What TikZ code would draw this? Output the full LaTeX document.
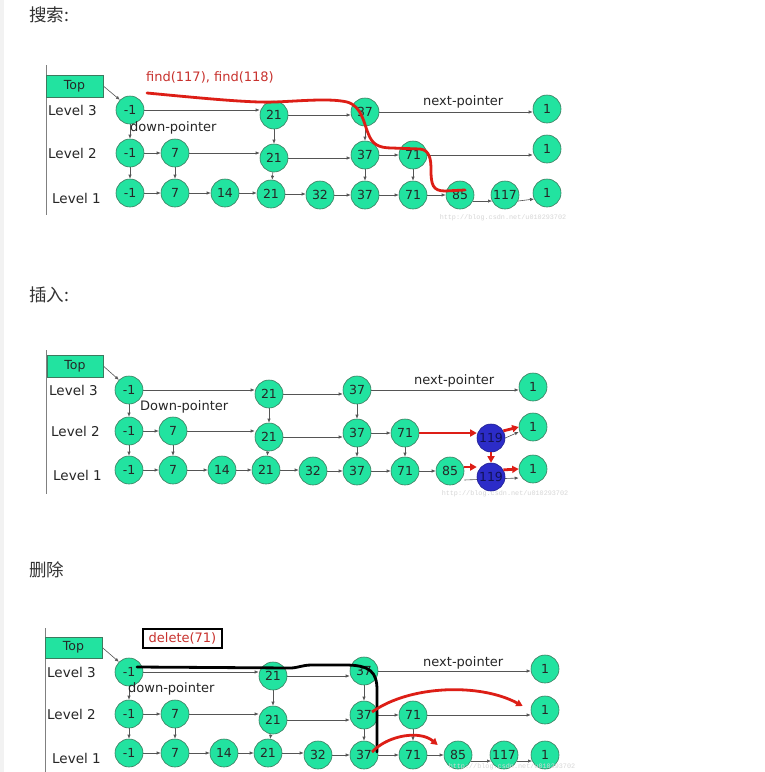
\documentclass[tikz,border=0pt]{standalone}
\usepackage{fontspec}
\setmainfont{DejaVu Sans}
\newfontfamily\cjkfont{Noto Sans CJK SC}
\newfontfamily\wmfont{Liberation Mono}
\usetikzlibrary{arrows.meta}
\definecolor{ndgreen}{HTML}{22E3A0}
\definecolor{ndborder}{HTML}{3C7A5E}
\definecolor{ndblue}{HTML}{2C2CC8}
\definecolor{ndblueb}{HTML}{1E1E90}
\definecolor{hlred}{HTML}{DD1E16}
\definecolor{txtred}{HTML}{C8322E}
\definecolor{lngray}{HTML}{555555}
\definecolor{wmgray}{HTML}{D6D6D6}
\pgfdeclarelayer{bg}
\pgfsetlayers{bg,main}
\newcommand\gn[3]{\node[nd] (#1) at (#2) {#3};}
\begin{document}
\begin{tikzpicture}[x=1pt,y=-1pt,
  nd/.style={circle,draw=ndborder,line width=0.6pt,fill=ndgreen,minimum size=28pt,inner sep=0pt,
    text=black!85,font=\fontsize{12.5}{14}\selectfont},
  bnd/.style={nd,fill=ndblue,draw=ndblueb,text=ndblueb!60!black},
  ar/.style={draw=lngray,line width=0.6pt,-{Latex[length=4pt,width=3.4pt]}},
  redar/.style={draw=hlred,line width=2.8pt,-{Triangle[length=6.5pt,width=7pt]}},
  topbox/.style={draw=ndborder,line width=0.6pt,fill=ndgreen,inner sep=0pt,
    font=\fontsize{12.5}{14}\selectfont,text=black!85},
  lvl/.style={anchor=west,inner sep=0pt,font=\fontsize{13.5}{15}\selectfont,text=black!85},
  lbl/.style={anchor=west,inner sep=0pt,font=\fontsize{13}{15}\selectfont,text=black!85},
  ttl/.style={anchor=west,inner sep=0pt,font=\cjkfont\fontsize{17.5}{19}\selectfont,text=black!80},
  wm/.style={inner sep=0pt,font=\wmfont\fontsize{6.8}{8}\selectfont,text=wmgray},
  axis/.style={draw=black!50,line width=0.8pt}]
\useasboundingbox (0,0) rectangle (764,772);
\begin{pgfonlayer}{bg}
\fill[white] (0,0) rectangle (764,772);
\fill[black!5] (0,0) rectangle (4,772);
\end{pgfonlayer}

% ================= Panel 1: search =================
\node[ttl] (t1) at (29,15) {搜索:};
\coordinate (v1a) at (46,65); \coordinate (v1b) at (46,215);
\draw[axis] (v1a) -- (v1b);
\node[topbox,minimum width=57pt,minimum height=22pt] (topA) at (74.5,86) {Top};
\node[lvl] (la3) at (48,110) {Level 3};
\node[lvl] (la2) at (48,153) {Level 2};
\node[lvl] (la1) at (52,198) {Level 1};
\gn{a3m1}{130,110}{-1} \gn{a321}{274,115}{21} \gn{a337}{365,112}{37} \gn{a31}{547,109}{1}
\gn{a2m1}{130,153}{-1} \gn{a27}{175,153}{7} \gn{a221}{274,158}{21} \gn{a237}{365,155}{37}
\gn{a271}{413,155}{71} \gn{a21}{547,149}{1}
\gn{a1m1}{130,193}{-1} \gn{a17}{175,193}{7} \gn{a114}{225,193}{14} \gn{a121}{271,194}{21}
\gn{a132}{320,195}{32} \gn{a137}{365,195}{37} \gn{a171}{413,195}{71} \gn{a185}{460,195}{85}
\gn{a1117}{505,195}{117} \gn{a11}{547,193}{1}
\node[lbl] (dpa) at (130,128) {down-pointer};
\node[lbl] (npa) at (423,102) {next-pointer};
\node[lbl,text=txtred] (fa) at (146,77) {find(117), find(118)};
\node[wm] (wma) at (503,218) {http://blog.csdn.net/u010293702};
\begin{pgfonlayer}{bg}
\draw[ar] (topA.east) -- (a3m1.135);
\foreach \s/\t in {a3m1/a321,a321/a337,a337/a31,a2m1/a27,a27/a221,a221/a237,a237/a271,a271/a21,
  a1m1/a17,a17/a114,a114/a121,a121/a132,a132/a137,a137/a171,a171/a185}
  \draw[ar] (\s.east) -- (\t.west |- \s.east);
\foreach \s/\t in {a3m1/a2m1,a2m1/a1m1,a27/a17,a321/a221,a221/a121,a337/a237,a237/a137,a271/a171}
  \draw[ar] (\s) -- (\t);
\draw[ar] (a185.-25) -- (a1117.205);
\draw[ar] (a1117.-25) -- (a11.205);
\end{pgfonlayer}
\coordinate (ra0) at (147,93);
\coordinate (ra1) at (465,190);
\draw[hlred,line width=2.8pt,line cap=round] (ra0) .. controls (200,98) and (250,103) .. (275,102)
  .. controls (300,101) and (330,98) .. (347,102)
  .. controls (362,106) and (364,124) .. (368,133)
  .. controls (372,144) and (378,148) .. (392,148) -- (420,149)
  .. controls (430,150) and (431,160) .. (431,170)
  .. controls (431,185) and (433,191) .. (445,191) -- (ra1);

% ================= Panel 2: insert =================
\node[ttl] (t2) at (29,295) {插入:};
\coordinate (v2a) at (46,350); \coordinate (v2b) at (46,494);
\draw[axis] (v2a) -- (v2b);
\node[topbox,minimum width=56pt,minimum height=22pt] (topB) at (75,366) {Top};
\node[lvl] (lb3) at (49,390) {Level 3};
\node[lvl] (lb2) at (51,431) {Level 2};
\node[lvl] (lb1) at (53,475) {Level 1};
\gn{b3m1}{129,390}{-1} \gn{b321}{269,394}{21} \gn{b337}{357,390}{37} \gn{b31}{533,387}{1}
\gn{b2m1}{129,431}{-1} \gn{b27}{173,431}{7} \gn{b221}{269,437}{21} \gn{b237}{357,433}{37}
\gn{b271}{405,433}{71} \gn{b21}{533,427}{1}
\node[bnd] (b2119) at (491,438) {119};
\gn{b1m1}{129,470}{-1} \gn{b17}{173,470}{7} \gn{b114}{222,470}{14} \gn{b121}{266,470}{21}
\gn{b132}{313,471}{32} \gn{b137}{357,471}{37} \gn{b171}{405,471}{71} \gn{b185}{450,471}{85}
\gn{b11}{533,469}{1}
\node[bnd] (b1119) at (491,477) {119};
\node[lbl] (dpb) at (140,407) {Down-pointer};
\node[lbl] (npb) at (414,381) {next-pointer};
\node[wm] (wmb) at (505,494) {http://blog.csdn.net/u010293702};
\begin{pgfonlayer}{bg}
\draw[ar] (topB.east) -- (b3m1.135);
\foreach \s/\t in {b3m1/b321,b321/b337,b337/b31,b2m1/b27,b27/b221,b221/b237,b237/b271,
  b1m1/b17,b17/b114,b114/b121,b121/b132,b132/b137,b137/b171,b171/b185}
  \draw[ar] (\s.east) -- (\t.west |- \s.east);
\foreach \s/\t in {b3m1/b2m1,b2m1/b1m1,b27/b17,b321/b221,b221/b121,b337/b237,b237/b137,b271/b171}
  \draw[ar] (\s) -- (\t);
\draw[ar] (b2119.east) -- ([yshift=-5pt]b21.west);
\draw[ar] ([yshift=-9pt]b185.east) -- ([yshift=-9pt]b11.west);
\end{pgfonlayer}
\draw[redar] (b271.east) -- (b2119.west |- b271.east);
\draw[redar] (b2119.30) -- (b21.west);
\draw[redar] (b2119.south) -- (b1119.north);
\draw[redar] ([yshift=4pt]b185.east) -- ([yshift=10pt]b1119.west);
\draw[redar] (b1119.30) -- (b11.west);

% ================= Panel 3: delete =================
\node[ttl] (t3) at (29,570) {删除};
\coordinate (v3a) at (45,628); \coordinate (v3b) at (45,772);
\draw[axis] (v3a) -- (v3b);
\node[topbox,minimum width=57pt,minimum height=21pt] (topC) at (73.5,647.5) {Top};
\node[draw=black,line width=2.4pt,fill=white,minimum width=79pt,minimum height=19pt,inner sep=0pt,
  font=\fontsize{13}{15}\selectfont,text=txtred] (del) at (182.5,638.5) {delete(71)};
\node[lvl] (lc3) at (47,672) {Level 3};
\node[lvl] (lc2) at (47,714) {Level 2};
\node[lvl] (lc1) at (52,758) {Level 1};
\gn{c3m1}{129,672}{-1} \gn{c321}{273,676}{21} \gn{c337}{364,671}{37} \gn{c31}{545,669}{1}
\gn{c2m1}{129,714}{-1} \gn{c27}{175,714}{7} \gn{c221}{273,720}{21} \gn{c237}{364,715}{37}
\gn{c271}{413,715}{71} \gn{c21}{545,710}{1}
\gn{c1m1}{129,753}{-1} \gn{c17}{175,753}{7} \gn{c114}{224,753}{14} \gn{c121}{268,753}{21}
\gn{c132}{318,755}{32} \gn{c137}{364,755}{37} \gn{c171}{413,755}{71} \gn{c185}{458,755}{85}
\gn{c1117}{504,755}{117} \gn{c11}{545,755}{1}
\node[lbl] (dpc) at (128,689) {down-pointer};
\node[lbl] (npc) at (423,663) {next-pointer};
\node[wm] (wmc) at (512,767) {http://blog.csdn.net/u010293702};
\begin{pgfonlayer}{bg}
\draw[ar] (topC.east) -- (c3m1.135);
\foreach \s/\t in {c3m1/c321,c321/c337,c337/c31,c2m1/c27,c27/c221,c221/c237,c237/c271,c271/c21,
  c1m1/c17,c17/c114,c114/c121,c121/c132,c132/c137,c137/c171,c171/c185}
  \draw[ar] (\s.east) -- (\t.west |- \s.east);
\foreach \s/\t in {c3m1/c2m1,c2m1/c1m1,c27/c17,c321/c221,c221/c121,c337/c237,c237/c137,c271/c171}
  \draw[ar] (\s) -- (\t);
\draw[ar] (c185.-25) -- (c1117.205);
\draw[ar] (c1117.-25) -- (c11.205);
\end{pgfonlayer}
\draw[black,line width=2.8pt,line cap=round] ([xshift=8pt,yshift=5pt]c3m1.center) -- (290,668)
  .. controls (298,668) and (302,665) .. (312,665) -- (345,665)
  .. controls (370,665) and (377,672) .. (377,690) -- ([xshift=13pt,yshift=3pt]c137.center);
\draw[redar] ([xshift=8pt,yshift=3pt]c237.center) .. controls (410,685) and (480,683) .. ([xshift=-8pt,yshift=4pt]c21.west);
\draw[redar] ([xshift=8pt,yshift=3pt]c137.center) .. controls (388,735) and (420,730) .. ([xshift=-6pt,yshift=10pt]c185.west);
\end{tikzpicture}
\end{document}
